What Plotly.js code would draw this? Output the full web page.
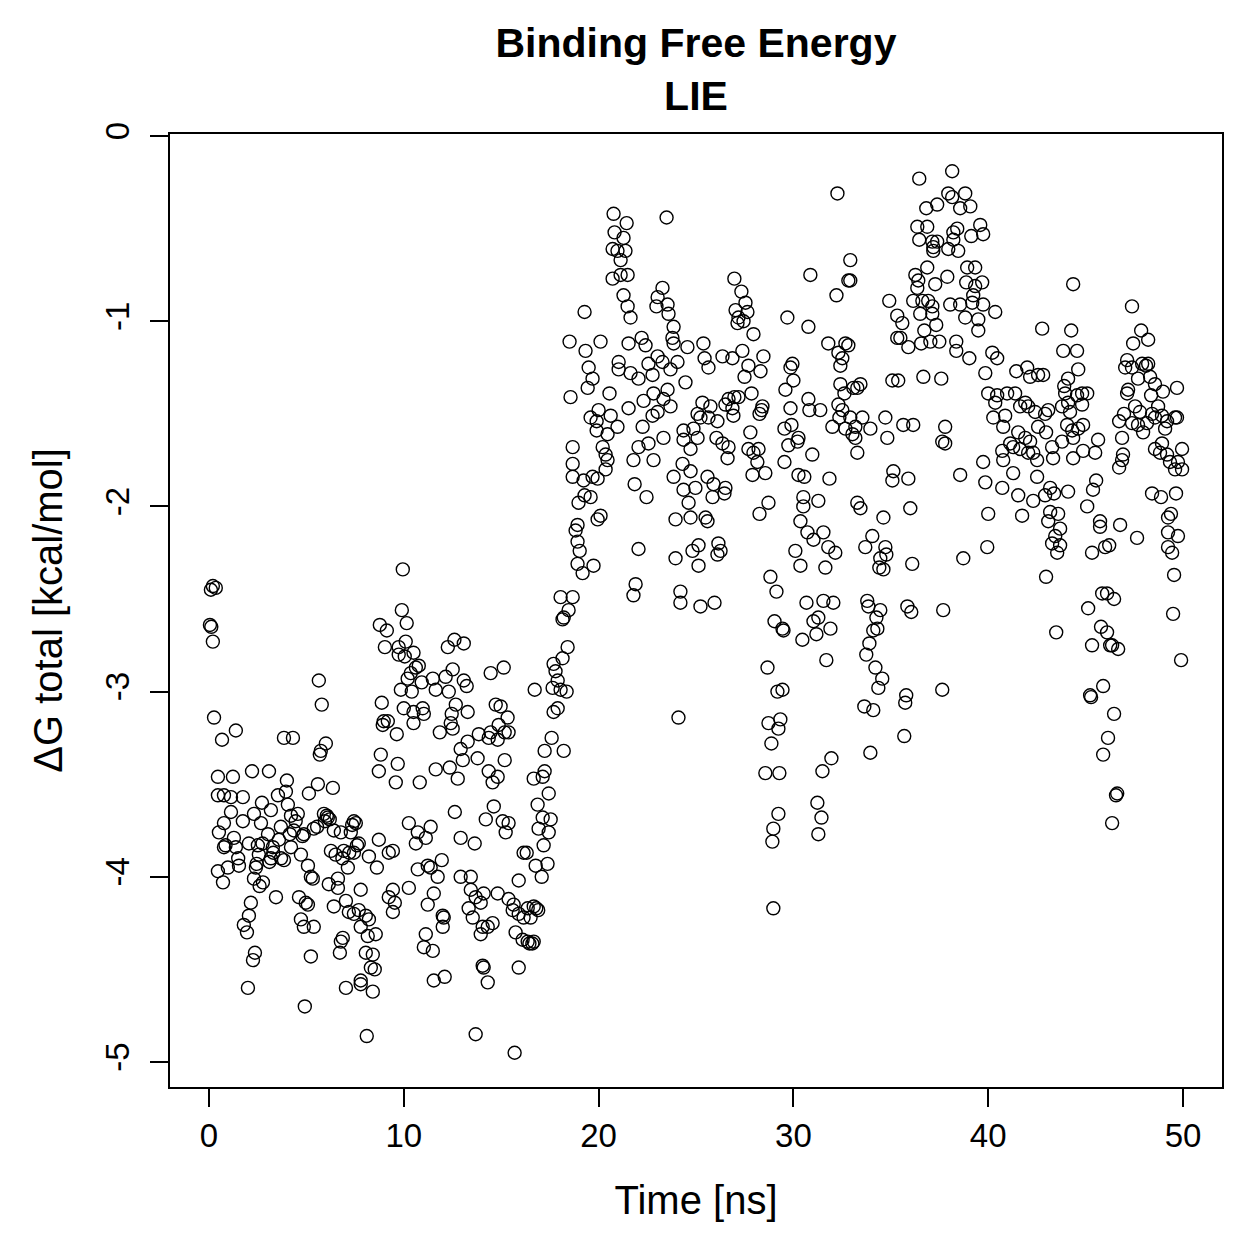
<!DOCTYPE html>
<html>
<head>
<meta charset="utf-8">
<script src="https://cdn.plot.ly/plotly-3.0.1.min.js"></script>
<style>html,body{margin:0;padding:0;background:#fff;}#chart{width:1259px;height:1259px;}</style>
</head>
<body>
<div id="chart"></div>
<script>
// [time (ns), dG total (kcal/mol)]
const seg_0_8 = [
[0.1,-2.45],[0.2,-2.43],[0.35,-2.44],[0.05,-2.64],[0.12,-2.65],[0.2,-2.73],
[5.64,-2.94],[5.79,-3.07],[0.26,-3.14],[1.38,-3.21],[0.67,-3.26],[3.85,-3.25],[4.31,-3.25],[6.0,-3.28],[5.74,-3.32],[5.69,-3.34],
[0.46,-3.46],[1.23,-3.46],[2.21,-3.43],[3.08,-3.43],[4.0,-3.48],[5.59,-3.50],[6.36,-3.52],[5.13,-3.55],[3.95,-3.54],
[0.46,-3.56],[0.77,-3.56],[1.13,-3.57],[1.74,-3.57],[2.72,-3.60],[3.54,-3.56],[4.05,-3.61],[1.13,-3.65],[2.31,-3.66],[3.18,-3.64],
[4.21,-3.67],[4.56,-3.66],[5.90,-3.66],[6.10,-3.68],[7.44,-3.70],[0.77,-3.71],[1.74,-3.70],[2.67,-3.71],[3.69,-3.73],[4.36,-3.75],
[5.38,-3.74],[6.41,-3.75],[7.28,-3.76],[0.51,-3.76],[1.28,-3.79],[3.03,-3.77],[3.59,-3.80],[4.87,-3.77],[6.77,-3.76],[0.77,-3.84],
[1.38,-3.84],[2.05,-3.82],[2.51,-3.83],[3.28,-3.84],[4.21,-3.84],[6.26,-3.86],[6.92,-3.86],[7.44,-3.87],[2.56,-3.88],[3.18,-3.90],
[3.85,-3.91],[4.72,-3.88],[5.08,-3.94],[7.13,-3.95],[1.54,-3.94],[0.97,-3.95],[0.46,-3.97],[0.72,-4.03],[2.41,-3.95],[2.31,-4.01],
[2.77,-4.03],[3.44,-4.11],[2.15,-4.14],[2.05,-4.21],[1.79,-4.26],[1.95,-4.30],[2.36,-4.41],[2.26,-4.45],[2.0,-4.60],[4.92,-4.70],
[4.62,-4.11],[4.97,-4.14],[5.08,-4.15],[4.72,-4.23],[4.87,-4.27],[5.38,-4.27],[5.23,-4.43],[5.23,-4.00],[5.33,-4.01],[6.15,-4.04],
[6.62,-4.01],[6.62,-4.06],[6.41,-4.16],[7.03,-4.13],[7.18,-4.19],[7.44,-4.20],[6.87,-4.33],[6.77,-4.35],[6.72,-4.41],[7.03,-4.60],
[0.85,-3.83],[1.5,-3.90],[2.45,-3.93],[2.6,-4.05],[2.75,-3.82],[3.1,-3.92],[3.3,-3.87],[3.7,-3.90],[4.15,-3.77],[4.45,-3.70],
[4.8,-3.78],[5.55,-3.73],[5.95,-3.70],[6.05,-3.67],[6.2,-3.69],[6.5,-3.88],[6.85,-3.90],[7.2,-3.87],[7.35,-3.72],[7.6,-3.83]
];
const seg_8_16 = [
[9.95,-2.34],[9.9,-2.56],[10.15,-2.63],[8.77,-2.64],[9.13,-2.67],[10.1,-2.73],[9.03,-2.76],[9.74,-2.76],[9.74,-2.80],[10.05,-2.81],
[10.5,-2.79],[12.6,-2.72],[12.26,-2.76],[13.08,-2.74],[10.77,-2.86],[10.62,-2.87],[10.36,-2.90],[10.2,-2.93],[10.92,-2.95],[11.49,-2.93],
[12.15,-2.92],[12.51,-2.88],[13.08,-2.94],[13.23,-2.97],[14.46,-2.90],[15.13,-2.87],[9.85,-2.99],[10.41,-3.0],[11.64,-2.99],[12.31,-3.0],
[8.87,-3.06],[10.0,-3.09],[10.5,-3.11],[10.97,-3.09],[11.03,-3.12],[12.67,-3.07],[12.46,-3.12],[13.28,-3.11],[14.72,-3.07],[14.97,-3.08],
[15.33,-3.14],[8.97,-3.16],[8.92,-3.18],[9.18,-3.16],[10.5,-3.17],[9.64,-3.23],[12.41,-3.17],[12.51,-3.2],[11.85,-3.22],[13.85,-3.23],
[13.28,-3.27],[12.92,-3.31],[14.46,-3.22],[14.87,-3.18],[15.18,-3.22],[15.38,-3.22],[14.36,-3.25],[14.82,-3.26],[8.82,-3.34],[9.69,-3.39],
[8.72,-3.43],[9.59,-3.49],[10.82,-3.49],[11.64,-3.42],[12.36,-3.41],[12.77,-3.47],[13.03,-3.37],[13.79,-3.36],[14.36,-3.43],[14.82,-3.46],
[14.56,-3.49],[15.18,-3.37],
[7.54,-3.71],[7.69,-3.82],[8.72,-3.80],[8.21,-3.89],[8.62,-3.95],[9.23,-3.87],[9.44,-3.86],[10.26,-3.71],[10.72,-3.76],[11.13,-3.79],
[11.38,-3.73],[10.62,-3.82],[12.62,-3.65],[12.92,-3.79],[13.64,-3.82],[14.21,-3.69],[14.62,-3.62],[15.08,-3.70],[15.38,-3.71],[15.23,-3.76],
[16.15,-3.87],[10.72,-3.96],[11.23,-3.94],[11.38,-3.95],[11.95,-3.91],[11.74,-4.0],[10.26,-4.06],[9.44,-4.07],[7.79,-4.07],[9.23,-4.11],
[9.54,-4.14],[9.44,-4.19],[11.54,-4.09],[11.23,-4.15],[12.92,-4.0],[13.44,-4.0],[13.44,-4.07],[13.69,-4.11],[13.95,-4.14],[13.33,-4.17],
[13.54,-4.22],[14.1,-4.09],[14.82,-4.09],[15.38,-4.12],[15.64,-4.15],[15.9,-4.02],[15.59,-4.18],[15.9,-4.2],[16.15,-4.22],[12.0,-4.21],
[12.05,-4.22],[12.0,-4.27],[14.56,-4.25],[14.05,-4.27],[13.95,-4.31],[14.31,-4.27],[15.74,-4.30],[16.1,-4.34],[7.69,-4.18],[8.05,-4.21],
[8.21,-4.23],[7.79,-4.27],[8.15,-4.32],[8.56,-4.31],[8.05,-4.41],[8.41,-4.42],[8.31,-4.49],[8.51,-4.50],[7.79,-4.56],[7.79,-4.58],
[8.41,-4.62],[11.13,-4.31],[11.03,-4.38],[11.49,-4.40],[11.54,-4.56],[12.1,-4.54],[14.05,-4.48],[14.1,-4.49],[14.31,-4.57],[15.9,-4.49],
[8.1,-4.86],[13.69,-4.85],[15.69,-4.95]
];
const seg_16_25 = [
[18.15,-2.61],[18.41,-2.76],[18.15,-2.82],[17.69,-2.85],[17.79,-2.89],[17.9,-2.94],[16.72,-2.99],[17.64,-2.98],[18.05,-2.99],[18.36,-3.0],
[17.69,-3.11],[17.9,-3.09],[24.1,-3.14],[17.59,-3.25],[17.23,-3.32],[18.21,-3.32],[16.67,-3.47],[17.13,-3.46],[17.23,-3.43],[17.44,-3.55],
[16.87,-3.61],[17.13,-3.68],[17.54,-3.69],[16.92,-3.74],[17.44,-3.76],[17.18,-3.83],[16.31,-3.87],[16.77,-3.94],[17.38,-3.93],[17.08,-4.0],
[16.67,-4.16],[16.36,-4.17],[16.51,-4.22],[16.67,-4.35],[16.36,-4.35],[16.8,-4.17],[16.9,-4.18],[16.45,-4.36],[16.6,-4.36],
[20.77,-0.42],[23.49,-0.44],[21.44,-0.47],[20.82,-0.52],[21.28,-0.55],[20.72,-0.61],[20.97,-0.62],[21.38,-0.62],[21.13,-0.67],[20.72,-0.77],
[21.13,-0.75],[21.49,-0.75],[23.28,-0.82],[21.28,-0.86],[23.03,-0.87],[23.54,-0.91],[22.97,-0.92],[21.49,-0.92],[23.59,-0.96],[21.64,-0.98],
[19.28,-0.95],[23.85,-1.03],[23.79,-1.09],[23.85,-1.12],[24.56,-1.14],[18.51,-1.11],[19.33,-1.16],[20.1,-1.11],[21.54,-1.12],[22.21,-1.09],
[22.41,-1.13],[19.49,-1.25],[19.69,-1.31],[19.44,-1.36],[21.03,-1.22],[21.03,-1.26],[21.64,-1.28],[22.05,-1.31],[22.56,-1.23],[23.03,-1.19],
[23.28,-1.22],[24.05,-1.22],[23.69,-1.26],[22.77,-1.29],[24.46,-1.33],[18.56,-1.41],[20.56,-1.39],[21.54,-1.47],[19.59,-1.52],[20.0,-1.48],
[20.62,-1.51],[19.9,-1.54],[19.9,-1.59],[20.46,-1.61],[20.97,-1.57],[22.26,-1.57],[22.31,-1.43],[22.82,-1.39],[23.54,-1.37],[23.33,-1.42],
[23.69,-1.46],[22.77,-1.51],[23.03,-1.49],[23.33,-1.63],[24.36,-1.59],[18.67,-1.68],[18.67,-1.77],[18.67,-1.84],[20.21,-1.68],[20.36,-1.72],
[20.46,-1.75],[20.36,-1.80],[19.23,-1.86],[19.69,-1.84],[19.95,-1.85],[21.79,-1.75],[22.05,-1.68],[22.56,-1.66],[22.82,-1.75],[24.36,-1.64],
[24.31,-1.77],[23.85,-1.84],[24.36,-1.91],[21.85,-1.88],[22.46,-1.95],[19.28,-1.94],[18.97,-1.98],[19.59,-1.95],[19.95,-2.07],[20.1,-2.05],
[23.95,-2.07],[18.92,-2.10],[18.82,-2.13],[18.92,-2.19],[19.03,-2.24],[18.92,-2.31],[19.18,-2.36],[19.74,-2.32],[22.05,-2.23],[23.95,-2.28],
[21.9,-2.42],[21.79,-2.48],[24.2,-2.46],[24.2,-2.52],[18.05,-2.49],[18.67,-2.49],[18.46,-2.56],[18.21,-2.60]
];
const seg_25_33 = [
[32.26,-0.31],[32.92,-0.67],[32.92,-0.78],[32.82,-0.78],[30.87,-0.75],[32.21,-0.86],[26.97,-0.77],[27.33,-0.84],[27.54,-0.90],[27.03,-0.94],
[27.18,-0.98],[27.64,-0.95],[27.44,-1.0],[27.13,-1.01],[29.69,-0.98],[30.77,-1.03],[27.95,-1.07],[31.79,-1.12],[32.67,-1.12],[32.82,-1.13],
[32.31,-1.17],[32.51,-1.20],[32.41,-1.24],[25.38,-1.12],[27.38,-1.16],[26.36,-1.19],[26.87,-1.20],[25.44,-1.20],[25.64,-1.25],[28.46,-1.19],
[27.69,-1.24],[28.31,-1.27],[27.49,-1.30],[29.95,-1.23],[29.85,-1.25],[30.0,-1.32],[29.59,-1.37],[27.85,-1.39],[32.41,-1.34],[32.62,-1.39],
[33.08,-1.36],[30.77,-1.42],[31.38,-1.48],[30.82,-1.48],[29.85,-1.47],[26.67,-1.42],[26.97,-1.41],[27.18,-1.41],[26.51,-1.45],[26.87,-1.47],
[26.92,-1.51],[28.36,-1.48],[28.26,-1.50],[28.41,-1.46],[25.33,-1.44],[25.74,-1.46],[25.08,-1.50],[25.23,-1.52],[25.64,-1.52],[26.1,-1.54],
[32.31,-1.45],[32.51,-1.48],[32.36,-1.52],[32.0,-1.57],[32.67,-1.58],[32.92,-1.52],[33.03,-1.61],[29.54,-1.58],[29.9,-1.56],[30.26,-1.63],
[29.74,-1.67],[30.21,-1.65],[30.97,-1.72],[24.87,-1.58],[25.08,-1.63],[24.72,-1.69],[26.05,-1.63],[26.36,-1.66],[26.67,-1.68],[26.62,-1.74],
[27.79,-1.60],[27.69,-1.69],[27.95,-1.71],[28.21,-1.69],[28.15,-1.76],[27.9,-1.83],[28.56,-1.82],[29.54,-1.76],[30.26,-1.83],[30.56,-1.84],
[31.85,-1.85],[24.72,-1.81],[24.97,-1.90],[25.59,-1.84],[25.9,-1.88],[25.85,-1.95],[26.51,-1.90],[26.46,-1.93],[24.62,-1.98],[24.72,-2.06],
[25.49,-2.06],[25.59,-2.08],[28.26,-2.04],[28.72,-1.98],[30.51,-1.95],[30.51,-2.0],[31.28,-1.97],[30.36,-2.08],[30.72,-2.14],[31.03,-2.18],
[31.54,-2.14],[31.79,-2.22],[32.15,-2.25],[30.1,-2.24],[25.13,-2.21],[24.82,-2.24],[26.15,-2.20],[26.26,-2.24],
[25.13,-2.32],[26.1,-2.26],[30.36,-2.32],[31.64,-2.33],[28.82,-2.38],[29.13,-2.46],[25.23,-2.54],[25.95,-2.52],[29.03,-2.62],[29.44,-2.66],
[29.49,-2.67],[30.67,-2.52],[31.54,-2.51],[32.05,-2.52],[31.28,-2.60],[31.03,-2.62],[30.46,-2.72],[31.18,-2.69],[31.9,-2.66],[31.69,-2.83],
[28.67,-2.87],[29.18,-3.0],[29.44,-2.99],[28.72,-3.17],[29.33,-3.15],[29.23,-3.20],[28.87,-3.28],[31.95,-3.36],[31.49,-3.43],[28.56,-3.44],
[29.28,-3.44],[31.23,-3.60],[29.23,-3.66],[31.44,-3.68],[28.97,-3.74],[31.28,-3.77],[28.92,-3.81],[28.97,-4.17]
];
const seg_33_41 = [
[38.15,-0.19],[36.46,-0.23],[37.95,-0.31],[38.82,-0.31],[38.15,-0.33],[37.38,-0.37],[36.82,-0.39],[38.56,-0.39],[39.08,-0.38],[36.36,-0.49],
[36.87,-0.49],[38.41,-0.50],[39.59,-0.48],[38.21,-0.52],[39.13,-0.54],[39.74,-0.53],[36.46,-0.56],[37.13,-0.57],[37.38,-0.57],[37.18,-0.60],
[37.95,-0.61],[38.46,-0.62],[38.21,-0.56],[37.18,-0.62],[36.26,-0.75],[36.87,-0.71],[37.9,-0.76],[38.92,-0.71],[39.33,-0.71],[36.41,-0.78],
[37.28,-0.80],[38.87,-0.79],[39.69,-0.79],[36.36,-0.82],[39.33,-0.81],[36.15,-0.89],[36.62,-0.89],[36.92,-0.89],[37.13,-0.92],[38.05,-0.91],
[38.56,-0.91],[39.23,-0.86],[39.18,-0.90],[39.74,-0.91],[34.92,-0.89],[36.51,-0.96],[37.13,-0.96],[38.82,-0.98],[40.36,-0.95],[39.49,-0.99],
[35.33,-0.97],[35.59,-1.01],[37.33,-1.02],[36.72,-1.05],[39.49,-1.05],[35.33,-1.09],[35.49,-1.09],[35.9,-1.14],[36.56,-1.12],[37.03,-1.11],
[37.49,-1.11],[38.36,-1.11],[38.36,-1.16],[39.03,-1.20],[40.21,-1.17],[40.46,-1.20],[39.85,-1.28],[41.44,-1.27],[35.08,-1.32],[35.38,-1.32],
[36.67,-1.30],[37.59,-1.31],[33.44,-1.34],[33.28,-1.36],[40.0,-1.39],[40.46,-1.40],[40.97,-1.39],[41.38,-1.39],[40.36,-1.44],[41.64,-1.46],
[33.54,-1.52],[33.18,-1.57],[33.95,-1.58],[34.72,-1.52],[35.64,-1.56],[36.15,-1.56],[37.79,-1.57],[40.26,-1.52],[40.87,-1.51],[40.77,-1.57],
[33.18,-1.63],[34.82,-1.63],[37.64,-1.65],[37.79,-1.66],[41.13,-1.66],[40.72,-1.70],[41.28,-1.68],[33.28,-1.71],[39.74,-1.76],[40.77,-1.75],
[35.13,-1.81],[35.08,-1.86],[35.9,-1.85],[38.56,-1.83],[39.85,-1.87],[40.72,-1.90],[41.28,-1.82],[33.28,-1.98],[33.44,-2.01],[36.0,-2.01],
[34.62,-2.06],[40.0,-2.04],[34.05,-2.16],[33.69,-2.22],[34.72,-2.22],[39.95,-2.22],
[34.77,-2.26],[34.46,-2.28],[34.41,-2.33],[34.62,-2.34],[36.1,-2.31],[38.72,-2.28],[33.79,-2.51],[33.85,-2.54],[34.46,-2.56],[35.85,-2.54],
[36.05,-2.57],[37.69,-2.56],[34.26,-2.60],[34.31,-2.66],[34.1,-2.67],[33.9,-2.74],[33.74,-2.80],[34.21,-2.87],[34.56,-2.93],[34.36,-2.98],
[35.79,-3.02],[35.74,-3.06],[37.64,-2.99],[33.64,-3.08],[34.1,-3.10],[35.69,-3.24],[33.95,-3.33]
];
const seg_41_50 = [
[44.36,-0.80],[47.38,-0.92],[42.77,-1.04],[44.26,-1.05],[47.85,-1.05],[48.21,-1.10],[47.44,-1.12],[43.85,-1.16],[44.56,-1.16],[44.62,-1.26],
[47.13,-1.21],[47.03,-1.25],[47.38,-1.25],[47.9,-1.23],[48.1,-1.24],[48.21,-1.23],[42.0,-1.25],[42.15,-1.30],[42.56,-1.29],[42.82,-1.29],
[44.1,-1.31],[43.9,-1.35],[47.69,-1.31],[48.31,-1.30],[48.56,-1.34],[48.97,-1.38],[49.69,-1.36],[43.95,-1.39],[44.56,-1.40],[44.82,-1.39],
[45.08,-1.39],[47.18,-1.37],[47.13,-1.39],[48.36,-1.40],[41.9,-1.44],[42.05,-1.46],[42.41,-1.49],[42.92,-1.50],[43.08,-1.48],[43.79,-1.46],
[44.1,-1.44],[44.2,-1.49],[44.82,-1.45],[47.54,-1.46],[47.79,-1.49],[48.41,-1.50],[48.72,-1.46],[48.56,-1.52],[48.92,-1.51],[49.59,-1.52],
[46.72,-1.54],[46.97,-1.50],[47.38,-1.55],[47.69,-1.56],[47.95,-1.60],[48.15,-1.55],[49.18,-1.54],[49.08,-1.58],[41.54,-1.60],[41.9,-1.63],
[42.15,-1.65],[42.56,-1.57],[42.97,-1.60],[44.05,-1.56],[44.31,-1.59],[44.62,-1.58],[44.87,-1.56],[44.36,-1.63],[41.64,-1.69],[42.05,-1.71],
[42.31,-1.71],[42.51,-1.75],[43.28,-1.68],[43.79,-1.65],[43.33,-1.74],[44.36,-1.74],[44.87,-1.70],[45.49,-1.71],[45.64,-1.64],[46.87,-1.63],
[46.92,-1.72],[46.87,-1.75],[46.72,-1.79],[48.92,-1.66],[48.56,-1.69],[48.82,-1.71],[49.18,-1.72],[49.33,-1.76],[49.74,-1.76],[49.95,-1.80],
[49.59,-1.80],[49.95,-1.69],[49.69,-1.52],[42.51,-1.84],[43.18,-1.90],[43.38,-1.93],[44.1,-1.92],[42.92,-1.94],[41.54,-1.94],[42.31,-1.97],
[45.38,-1.91],[45.54,-1.86],[45.08,-2.0],[43.18,-2.03],[43.59,-2.04],[43.08,-2.08],[43.69,-2.12],[43.44,-2.16],[43.28,-2.20],[43.69,-2.21],
[43.54,-2.25],[41.74,-2.05],[45.74,-2.08],[45.74,-2.11],[46.77,-2.10],[47.64,-2.17],[45.33,-2.25],[46.0,-2.22],[46.21,-2.21],[48.41,-1.93],
[48.87,-1.95],[49.64,-1.93],[49.23,-2.06],[49.38,-2.04],[49.23,-2.14],[49.74,-2.16],[49.23,-2.22],[49.44,-2.25],
[42.97,-2.38],[49.54,-2.37],[45.85,-2.47],[46.1,-2.47],[46.46,-2.50],[45.13,-2.55],[49.49,-2.58],[43.49,-2.68],[45.79,-2.65],[46.1,-2.68],
[45.33,-2.75],[46.26,-2.75],[46.36,-2.75],[46.67,-2.77],[49.9,-2.83],[45.9,-2.97],[45.23,-3.02],[45.28,-3.03],[46.46,-3.12],[46.15,-3.25],
[45.9,-3.34],[46.62,-3.55],[46.56,-3.56],[46.36,-3.71]
];

const xTicks = [0, 10, 20, 30, 40, 50];
const yTicks = [-5, -4, -3, -2, -1, 0];
const yTickText = ['-5', '-4', '-3', '-2', '-1', '0'];

const all = [].concat(seg_0_8, seg_8_16, seg_16_25, seg_25_33, seg_33_41, seg_41_50);
const time = all.map(p => p[0]);
const dG = all.map(p => p[1]);

const FONT = 'Liberation Sans, Arial, Helvetica, sans-serif';

const trace = {
  x: time, y: dG, type: 'scatter', mode: 'markers',
  marker: { symbol: 'circle-open', size: 13, color: '#000', line: { width: 1.4, color: '#000' } },
  hoverinfo: 'x+y', showlegend: false
};

const layout = {
  width: 1259, height: 1259, autosize: false,
  paper_bgcolor: '#fff', plot_bgcolor: '#fff',
  margin: { l: 170, r: 37, t: 134, b: 172, pad: 0 },
  font: { family: FONT, color: '#000', size: 33 },
  title: {
    text: '<b>Binding Free Energy</b><br><b>LIE</b>',
    font: { family: FONT, size: 41, color: '#000' },
    x: 0.5, xref: 'paper', xanchor: 'center',
    y: 1 - 57 / 1259, yref: 'container', yanchor: 'middle'
  },
  xaxis: {
    range: [-2, 52], tickvals: xTicks, ticktext: xTicks.map(String),
    ticks: 'outside', ticklen: 18, tickwidth: 2, tickcolor: '#000',
    showline: true, mirror: true, linewidth: 2, linecolor: '#000',
    showgrid: false, zeroline: false,
    tickfont: { family: FONT, size: 33, color: '#000' },
    title: { text: 'Time [ns]', font: { family: FONT, size: 40, color: '#000' }, standoff: 33 }
  },
  yaxis: {
    range: [-5.135, 0.011], tickvals: yTicks, ticktext: yTickText, tickangle: -90,
    ticks: 'outside', ticklen: 18, tickwidth: 2, tickcolor: '#000',
    showline: true, mirror: true, linewidth: 2, linecolor: '#000',
    showgrid: false, zeroline: false,
    tickfont: { family: FONT, size: 33, color: '#000' },
    ticklabelstandoff: 8,
    title: { text: 'ΔG total [kcal/mol]', font: { family: FONT, size: 40, color: '#000' }, standoff: 24 }
  }
};

Plotly.newPlot('chart', [trace], layout, { displayModeBar: false, staticPlot: true });
</script>
</body>
</html>
